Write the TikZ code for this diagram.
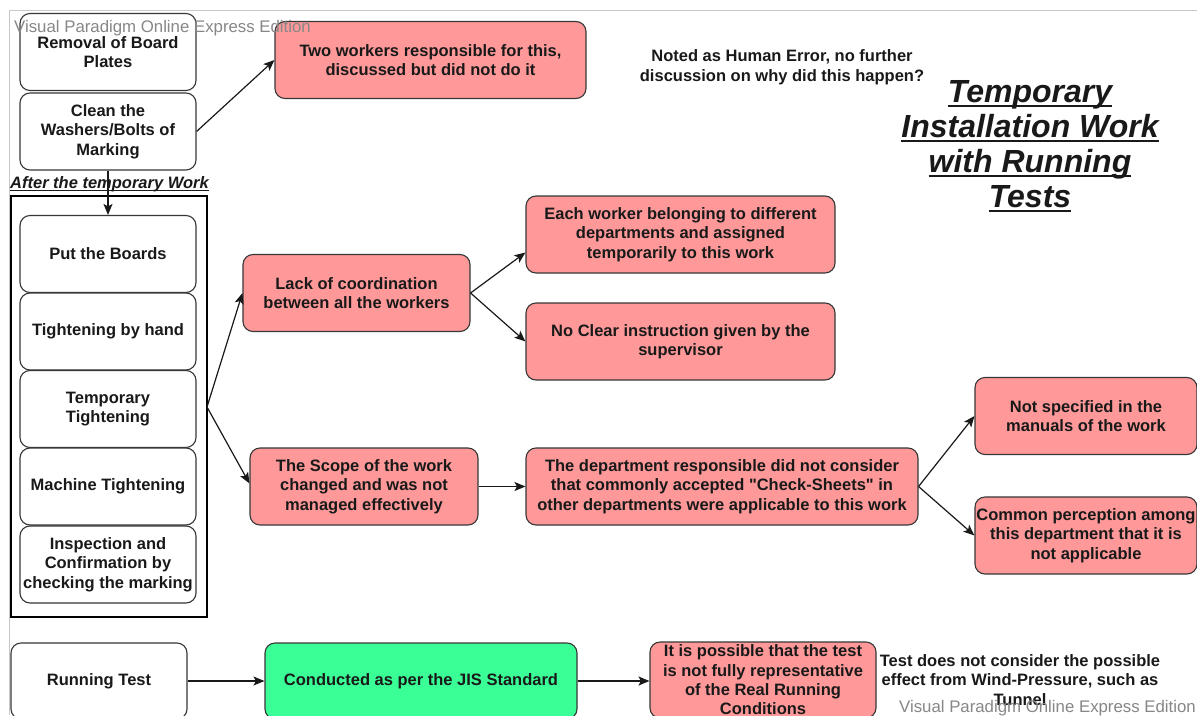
\documentclass[tikz,border=0pt]{standalone}
\usepackage{fontspec}
\setmainfont{Liberation Sans}
\usetikzlibrary{arrows.meta,calc}

\definecolor{causefill}{RGB}{255,153,153}
\definecolor{okfill}{RGB}{58,255,150}
\definecolor{edgegray}{RGB}{55,55,55}
\definecolor{wmgray}{RGB}{135,135,135}
\definecolor{framegray}{RGB}{200,200,200}

% body text and a plain underline drawn just below the baseline
\newcommand\bodyfont{\fontsize{16.5}{19.5}\selectfont\bfseries}
\newcommand\undl[3]{\setbox0=\hbox{#3}\rlap{\rule[-#1]{\wd0}{#2}}\box0}
% straight double quote, without the TeX quote mapping
\newcommand\dq{{\addfontfeature{Ligatures=TeXOff}"}}

\tikzset{
  box/.style={draw=edgegray, line width=1.1pt, rounded corners=10pt,
    align=center, inner sep=1pt, font=\bodyfont, text=black!90},
  stagebox/.style={box, fill=white, minimum width=176pt, minimum height=77pt},
  cause/.style={box, fill=causefill, minimum height=77pt},
  good/.style={box, fill=okfill, minimum height=77pt},
  note/.style={align=center, font=\bodyfont, text=black!90, inner sep=0pt},
  watermark/.style={font=\fontsize{16.8}{19}\selectfont, text=wmgray, inner sep=0pt},
  link/.style={-{Stealth[length=11pt,width=9pt,inset=2.5pt]}, line width=1.2pt, draw=black!90}
}

\begin{document}
\begin{tikzpicture}[x=1pt,y=-1pt]
  \useasboundingbox (0,0) rectangle (1197,715);
  \clip (0,0) rectangle (1197,715);
  \fill[white] (0,0) rectangle (1197,715);

  % page frame lines
  \draw[framegray, line width=1pt] (9,715) -- (9,10) -- (1197,10);

  % stages of the temporary work
  \node[stagebox] (rem)   at (108,52)    {Removal of Board\\Plates};
  \node[stagebox] (clean) at (108,131.5) {Clean the\\Washers/Bolts of\\Marking};

  \draw[black, line width=1.8pt] (11,196) rectangle (207,617);
  \coordinate (grpR) at (207,407);

  \node[stagebox] (put)  at (108,254)   {Put the Boards};
  \node[stagebox] (hand) at (108,331.5) {Tightening by hand};
  \node[stagebox] (temp) at (108,409)   {Temporary\\Tightening};
  \node[stagebox] (mach) at (108,486.5) {Machine Tightening};
  \node[stagebox] (insp) at (108,564.5) {Inspection and\\Confirmation by\\checking the marking};

  \draw[link] (clean.south) -- (put.north);
  \node[note, font=\fontsize{16.5}{18}\selectfont\bfseries\itshape] (after) at (109.5,184)
    {\undl{2.5pt}{1pt}{After the temporary Work}};

  % causes
  \node[cause, minimum width=311pt] (two) at (430.5,60)
    {Two workers responsible for this,\\discussed but did not do it};
  \node[note] (noted) at (782,67)
    {Noted as Human Error, no further\\discussion on why did this happen?};

  \node[note, font=\fontsize{32}{35}\selectfont\bfseries\itshape] (title) at (1030,146)
    {\undl{4pt}{2pt}{Temporary}\\\undl{4pt}{2pt}{Installation Work}\\\undl{4pt}{2pt}{with Running}\\\undl{4pt}{2pt}{Tests}};

  \node[cause, minimum width=227pt] (lack) at (356.5,293)
    {Lack of coordination\\between all the workers};
  \node[cause, minimum width=309pt] (each) at (680.5,234.5)
    {Each worker belonging to different\\departments and assigned\\temporarily to this work};
  \node[cause, minimum width=309pt] (noclear) at (680.5,341.5)
    {No Clear instruction given by the\\supervisor};

  \node[cause, minimum width=228pt] (scope) at (364,486.5)
    {The Scope of the work\\changed and was not\\managed effectively};
  \node[cause, minimum width=392pt] (dept) at (722,486.5)
    {The department responsible did not consider\\that commonly accepted \dq Check-Sheets\dq{} in\\other departments were applicable to this work};
  \node[cause, minimum width=222pt] (notspec) at (1086,416)
    {Not specified in the\\manuals of the work};
  \node[cause, minimum width=222pt] (common) at (1086,535.5)
    {Common perception among\\this department that it is\\not applicable};

  % running test
  \node[stagebox, minimum height=76pt] (run) at (99,681) {Running Test};
  \node[good, minimum width=312pt, minimum height=76pt] (jis) at (421,681)
    {Conducted as per the JIS Standard};
  \node[cause, minimum width=226pt, minimum height=76pt, font=\fontsize{16.5}{19.3}\selectfont\bfseries] (poss) at (763,680)
    {It is possible that the test\\is not fully representative\\of the Real Running\\Conditions};
  \node[note] (wind) at (1020,680)
    {Test does not consider the possible\\effect from Wind-Pressure, such as\\Tunnel};

  % connectors
  \draw[link] (clean.east) -- (two.west);
  \draw[link] (grpR) -- (lack.west);
  \draw[link] (grpR) -- ([yshift=3pt]scope.west);
  \draw[link] (lack.east) -- ([yshift=-18pt]each.west);
  \draw[link] (lack.east) -- (noclear.west);
  \draw[link] (scope.east) -- (dept.west);
  \draw[link] (dept.east) -- (notspec.west);
  \draw[link] (dept.east) -- (common.west);
  \draw[link] (run.east) -- (jis.west);
  \draw[link] (jis.east) -- (poss.west |- jis.east);

  % editor watermarks
  \node[watermark, anchor=west] (wm1) at (14,28) {Visual Paradigm Online Express Edition};
  \node[watermark, anchor=east] (wm2) at (1196,708) {Visual Paradigm Online Express Edition};
\end{tikzpicture}
\end{document}
